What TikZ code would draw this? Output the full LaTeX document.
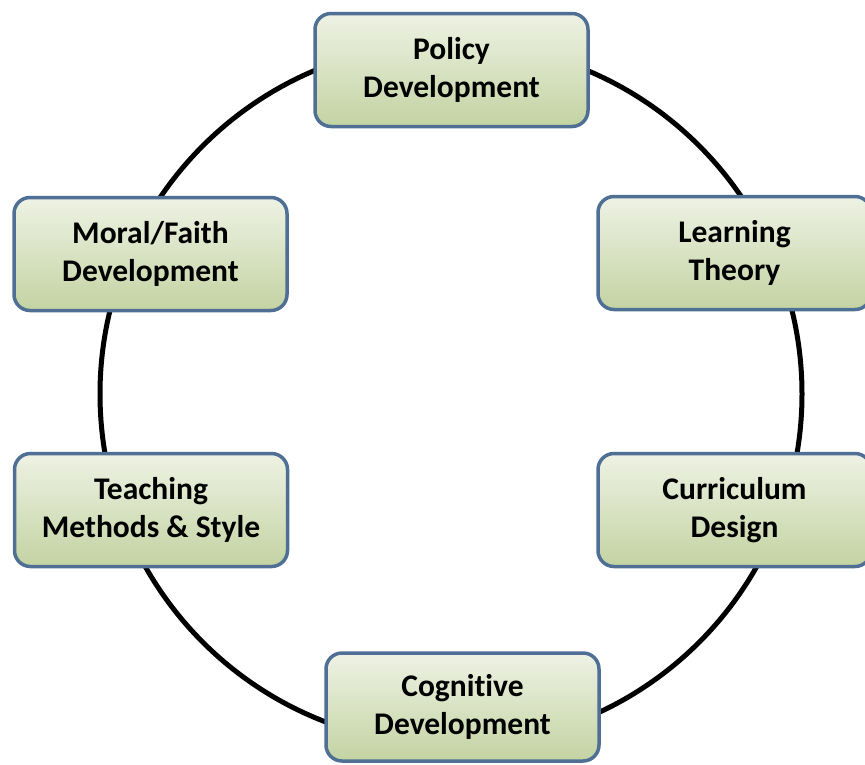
\documentclass[tikz,border=0pt]{standalone}
\usepackage{fontspec}
\setmainfont[Ligatures=NoCommon]{Carlito}
\usepackage{tikz}
\usetikzlibrary{positioning}

\definecolor{boxline}{HTML}{4F6F94}
\definecolor{boxtop}{HTML}{EEF2E4}
\definecolor{boxbottom}{HTML}{C3D3A2}

\begin{document}
\begin{tikzpicture}[x=1pt,y=-1pt]
                \tikzstyle{stage}=[draw=boxline, line width=3.5pt, rounded corners=16pt,
                  top color=boxtop, bottom color=boxbottom, minimum width=273pt,
                  minimum height=113pt, align=center, inner sep=0pt,
                  font=\fontsize{31.5}{38}\selectfont\bfseries]
                \useasboundingbox (0,0) rectangle (865,764);
                % the cycle behind the boxes
                \draw [black, line width=5pt] (451,394) circle (351pt);
                \node [stage] (policy) at (451.5,70) {Policy\\Development};
                \node [stage] (moral) at (150.5,254) {Moral/Faith\\Development};
                \node [stage] (learning) at (734.5,253) {Learning\\Theory};
                \node [stage] (teaching) at (151,510) {Teaching\\Methods \& Style};
                \node [stage] (curriculum) at (734.5,510) {Curriculum\\Design};
                \node [stage, minimum height=108pt] (cognitive) at (462.5,707) {Cognitive\\Development};
\end{tikzpicture}
\end{document}
